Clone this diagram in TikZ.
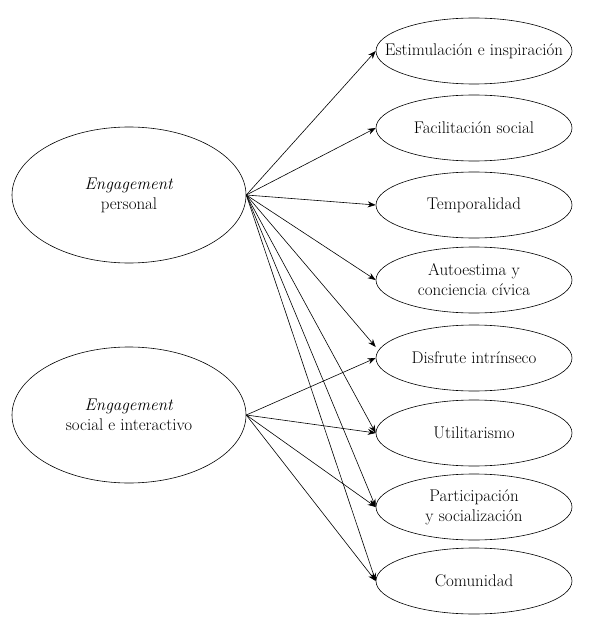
\documentclass[tikz,border=0pt]{standalone}
\usetikzlibrary{shapes.geometric, arrows.meta}

\begin{document}
\begin{tikzpicture}[
  x=1bp, y=-1bp,
  big/.style={ellipse, draw, line width=0.6pt, minimum width=234bp,
              minimum height=136bp, align=center, inner sep=0pt,
              font=\fontsize{17}{20}\selectfont},
  small/.style={ellipse, draw, line width=0.6pt, minimum width=196bp,
                minimum height=66bp, align=center, inner xsep=-25bp,
                inner ysep=0pt, font=\fontsize{17}{20}\selectfont},
  arr/.style={-{Stealth[length=8pt, width=6pt]}, line width=0.6pt},
]
\useasboundingbox (0,0) rectangle (589,632);

% Left: engagement types
\node[big] (ep) at (129, 195) {\textit{Engagement}\\personal};
\node[big] (es) at (129, 415) {\textit{Engagement}\\social e interactivo};

% Right: motivations
\node[small] (m1) at (474, 51)  {Estimulación e inspiración};
\node[small] (m2) at (474, 128) {Facilitación social};
\node[small] (m3) at (474, 205) {Temporalidad};
\node[small] (m4) at (474, 280) {Autoestima y\\conciencia cívica};
\node[small] (m5) at (474, 358) {Disfrute intrínseco};
\node[small] (m6) at (474, 433) {Utilitarismo};
\node[small] (m7) at (474, 507) {Participación\\y socialización};
\node[small] (m8) at (474, 581) {Comunidad};

% Arrows
\foreach \m in {m1,m2,m3,m4,m6,m7,m8}
  \draw[arr] (ep.east) -- (\m.west);
\draw[arr] (ep.east) -- ([yshift=11bp]m5.west);
\foreach \m in {m5,m6,m7,m8}
  \draw[arr] (es.east) -- (\m.west);

\end{tikzpicture}
\end{document}
